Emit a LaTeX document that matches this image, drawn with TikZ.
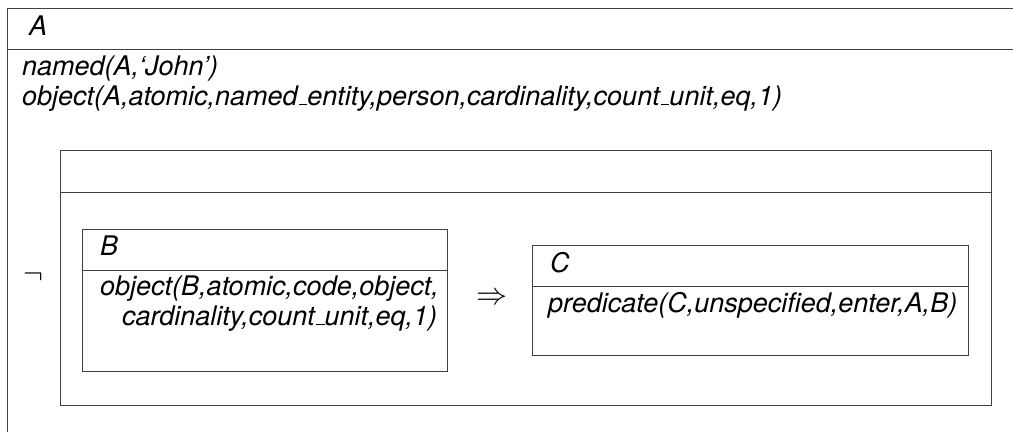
\documentclass[tikz,border=0pt]{standalone}
\usepackage{graphicx}
\usepackage{fontspec}
\setmainfont{TeX Gyre Heros}
\makeatletter
\newcommand{\usc}{\leavevmode\kern.06em\vbox{\hrule\@width.3em\@height.9pt}}
\makeatother
\begin{document}
\begin{tikzpicture}[x=1pt,y=-1pt,
  frame/.style={draw=black!75, line width=0.9pt},
  boxnode/.style={frame, rectangle, anchor=north west, inner sep=0pt, outer sep=0pt},
  lbl/.style={anchor=base west, inner sep=0pt, font=\fontsize{27}{32}\selectfont\itshape},
  sym/.style={inner sep=0pt, font=\fontsize{25}{30}\selectfont}]
\useasboundingbox (0,0) rectangle (1013,432);
% outer box A (open to the right and bottom)
\coordinate (Atr) at (1013,8);
\coordinate (Atl) at (7,8);
\coordinate (Abl) at (7,432);
\coordinate (Ahl) at (7,49);
\coordinate (Ahr) at (1013,49);
\draw[frame] (Atr) -- (Atl) -- (Abl);
\draw[frame] (Ahl) -- (Ahr);
\node[lbl] (Alab) at (29,35) {A};
\node[lbl] (Anamed) at (22,75) {named(A,‘John’)};
\node[lbl] (Aobj) at (22,105) {object(A,atomic,named\usc entity,person,cardinality,count\usc unit,eq,1)};
% negation box
\node[sym] (neg) at (33,277) {\scalebox{1.2}{$\neg$}};
\node[boxnode, minimum width=931, minimum height=255] (N) at (60,150) {};
\draw[frame] ([yshift=-42pt]N.north west) -- ([yshift=-42pt]N.north east);
% box B
\node[boxnode, minimum width=365, minimum height=142] (B) at (82,229) {};
\draw[frame] ([yshift=-41pt]B.north west) -- ([yshift=-41pt]B.north east);
\node[lbl] (Blab) at (100,255) {B};
\node[lbl] (Bl1) at (100,295) {object(B,atomic,code,object,};
\node[lbl] (Bl2) at (122,325) {cardinality,count\usc unit,eq,1)};
% implication
\node[sym] (imp) at (492,299) {\scalebox{1.25}{$\Rightarrow$}};
% box C
\node[boxnode, minimum width=436, minimum height=110] (C) at (532,245) {};
\draw[frame] ([yshift=-41pt]C.north west) -- ([yshift=-41pt]C.north east);
\node[lbl] (Clab) at (550,272) {C};
\node[lbl] (Cl1) at (548,312) {predicate(C,unspecified,enter,A,B)};
\end{tikzpicture}
\end{document}
